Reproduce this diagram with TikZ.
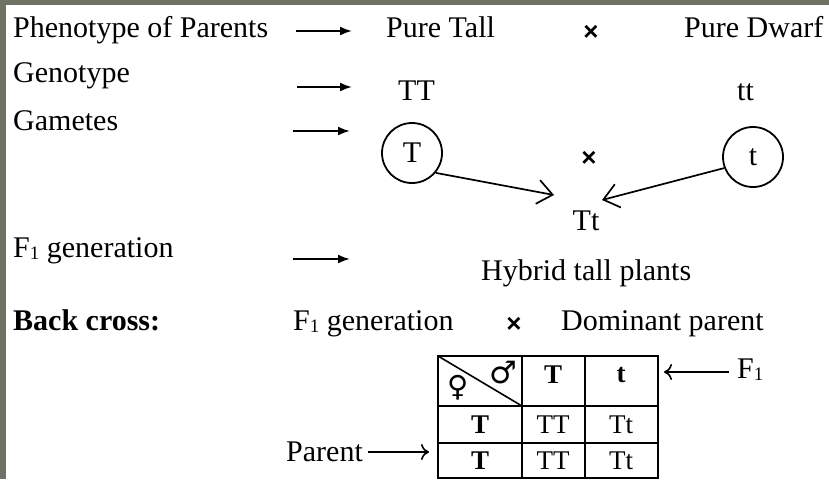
\documentclass[tikz,border=0pt]{standalone}
\usepackage{fontspec}
\setmainfont{Liberation Serif}
\newfontfamily\symfont{DejaVu Sans}
\newfontfamily\crossfont{Liberation Sans}
\usetikzlibrary{arrows.meta}
\newcommand{\subone}{{\fontsize{19}{20}\selectfont\raisebox{-2pt}{1}}}
\begin{document}
\begin{tikzpicture}[x=1pt,y=-1pt,
  lbl/.style={anchor=base west, inner sep=0, font=\fontsize{30}{36}\selectfont},
  tcell/.style={inner sep=0, font=\fontsize{27}{30}\selectfont},
  tbold/.style={inner sep=0, font=\fontsize{27}{30}\selectfont\bfseries},
  crossmark/.style={inner sep=0, font=\crossfont\bfseries\fontsize{26}{26}\selectfont},
  solidarr/.style={line width=2pt, -{Latex[length=12pt,width=9pt]}},
  cmarr/.style={line width=1.6pt, -{Computer Modern Rightarrow[length=8pt,width=16pt]}},
  openarr/.style={line width=1.7pt, -{Straight Barb[length=15pt,width=24pt,line width=1.7pt]}},
  gamete/.style={draw, circle, minimum size=60pt, line width=1.8pt, inner sep=0, font=\fontsize{30}{36}\selectfont},
  grid/.style={line width=2pt}
]
\useasboundingbox (0,0) rectangle (829,479);
\fill[fill={rgb,255:red,111;green,115;blue,102}] (0,0) rectangle (829,479);
\fill[white] (6,5) rectangle (829,479);

% row 1
\node[lbl] (phen) at (13,37) {Phenotype of Parents};
\coordinate (a1s) at (296,31); \coordinate (a1e) at (352,31);
\draw[solidarr] (a1s) -- (a1e);
\node[lbl] (ptall) at (386,37) {Pure Tall};
\node[crossmark] (x1) at (591,33) {×};
\node[lbl] (pdwarf) at (684,37) {Pure Dwarf};

% row 2
\node[lbl] (geno) at (13,82) {Genotype};
\coordinate (a2s) at (297,87); \coordinate (a2e) at (352,87);
\draw[solidarr] (a2s) -- (a2e);
\node[lbl] (TT) at (398,100) {TT};
\node[lbl] (tt) at (737,100) {tt};

% row 3
\node[lbl] (gam) at (13,130) {Gametes};
\coordinate (a3s) at (293,131); \coordinate (a3e) at (350,131);
\draw[solidarr] (a3s) -- (a3e);
\node[gamete] (cT) at (412,153) {T};
\node[gamete] (ct) at (753,157) {t};
\node[crossmark] (x2) at (589,159) {×};
\node[inner sep=0, anchor=base, font=\fontsize{30}{36}\selectfont] (Tt) at (586,230) {Tt};
\coordinate (tipL) at (554,195);
\coordinate (tipR) at (602,200);
\draw[openarr] (cT.-40) -- (tipL);
\draw[openarr] (ct.-159) -- (tipR);

% row 4
\node[lbl] (f1g) at (13,257) {F\subone\ generation};
\coordinate (a4s) at (293,259); \coordinate (a4e) at (350,259);
\draw[solidarr] (a4s) -- (a4e);
\node[lbl] (hyb) at (481,280) {Hybrid tall plants};

% row 5
\node[lbl, font=\fontsize{30}{36}\selectfont\bfseries] (back) at (13,330) {Back cross:};
\node[lbl] (f1g2) at (293,330) {F\subone\ generation};
\node[crossmark] (x3) at (514,325) {×};
\node[lbl] (dom) at (561,330) {Dominant parent};

% table
\draw[grid] (438,356) rectangle (658,478);
\draw[grid] (438,406) -- (658,406);
\draw[grid] (438,443) -- (658,443);
\draw[grid] (522,356) -- (522,478);
\draw[grid] (585,356) -- (585,478);
\draw[line width=1.6pt] (438,356) -- (522,406);
\node[inner sep=0, font=\symfont\fontsize{29}{29}\selectfont] (fem) at (458,388) {♀};
\node[inner sep=0, font=\symfont\bfseries\fontsize{31}{31}\selectfont] (mal) at (503,373) {♂};
\node[tbold] (hT) at (553,375) {T};
\node[tbold] (ht) at (621,375) {t};
\node[tbold] (r1) at (480,425) {T};
\node[tcell] (c11) at (553,425) {TT};
\node[tcell] (c12) at (621,425) {Tt};
\node[tbold] (r2) at (480,461) {T};
\node[tcell] (c21) at (553,461) {TT};
\node[tcell] (c22) at (621,461) {Tt};

% F1 arrow
\node[lbl] (f1lab) at (737,378) {F\subone};
\coordinate (f1s) at (729,372); \coordinate (f1e) at (664,372);
\draw[cmarr] (f1s) -- (f1e);

% Parent arrow
\node[lbl] (par) at (286,461) {Parent};
\coordinate (pas) at (368,452); \coordinate (pae) at (429,452);
\draw[cmarr] (pas) -- (pae);
\end{tikzpicture}
\end{document}
